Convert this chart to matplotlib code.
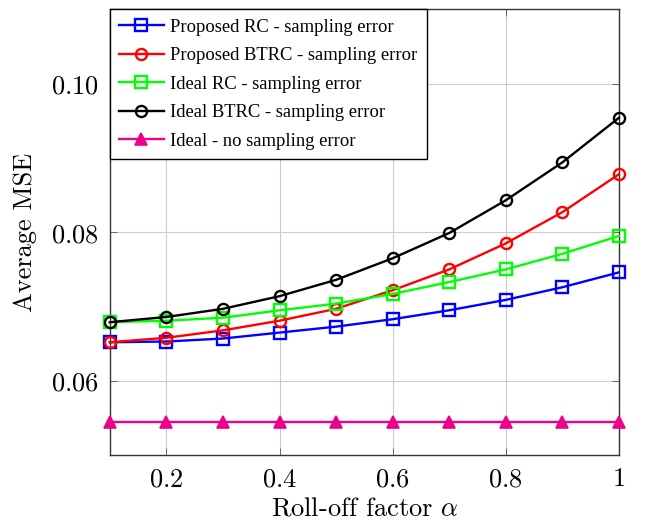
import matplotlib
matplotlib.use('Agg')
import matplotlib.pyplot as plt

plt.rcParams['mathtext.fontset'] = 'cm'

alpha = [0.1, 0.2, 0.3, 0.4, 0.5, 0.6, 0.7, 0.8, 0.9, 1.0]

proposed_rc = [0.0652, 0.0653, 0.0657, 0.0665, 0.0673, 0.0683, 0.0695, 0.0709, 0.0726, 0.0746]
proposed_btrc = [0.0652, 0.0658, 0.0668, 0.0681, 0.0697, 0.0722, 0.0750, 0.0785, 0.0827, 0.0878]
ideal_rc = [0.0679, 0.0681, 0.0685, 0.0695, 0.0704, 0.0717, 0.0733, 0.0750, 0.0771, 0.0795]
ideal_btrc = [0.0679, 0.0686, 0.0697, 0.0714, 0.0736, 0.0765, 0.0799, 0.0843, 0.0894, 0.0954]
ideal_no_err = [0.0544] * 10

labels = ['Proposed RC - sampling error', 'Proposed BTRC - sampling error',
          'Ideal RC - sampling error', 'Ideal BTRC - sampling error',
          'Ideal - no sampling error']

xticks = [0.2, 0.4, 0.6, 0.8, 1.0]
xtick_labels = ['0.2', '0.4', '0.6', '0.8', '1']
yticks = [0.06, 0.08, 0.10]
ytick_labels = ['0.06', '0.08', '0.10']

fig = plt.figure(figsize=(6.5, 5.22), dpi=100)
ax = fig.add_axes([0.169, 0.128, 0.783, 0.854])

kw = dict(lw=1.7, ms=8, mew=1.7, mfc='none', clip_on=False, zorder=3)
ax.plot(alpha, proposed_rc, color='#0000ff', marker='s', label=labels[0], **kw)
ax.plot(alpha, proposed_btrc, color='#ff0000', marker='o', label=labels[1], **kw)
ax.plot(alpha, ideal_rc, color='#00ff00', marker='s', label=labels[2], **kw)
ax.plot(alpha, ideal_btrc, color='#000000', marker='o', label=labels[3], **kw)
ax.plot(alpha, ideal_no_err, color='#ec008c', marker='^', lw=1.7, ms=8, mew=1.2,
        label=labels[4], clip_on=False, zorder=3)

ax.set_xlim(0.1, 1.0)
ax.set_ylim(0.05, 0.11)
ax.set_xticks(xticks)
ax.set_xticklabels(['$' + s + '$' for s in xtick_labels], fontsize=19)
ax.set_yticks(yticks)
ax.set_yticklabels(['$' + s + '$' for s in ytick_labels], fontsize=19)
ax.tick_params(direction='in', length=5, width=0.6, color='#555555', top=True, right=True, pad=8)
ax.grid(True, color='#cccccc', lw=0.8)
ax.set_axisbelow(True)
for s in ax.spines.values():
    s.set_linewidth(1.0)
    s.set_color('#333333')

ax.set_xlabel(r'Roll-off factor $\alpha$', fontsize=19, family='cmr10', labelpad=3)
ax.set_ylabel('Average MSE', fontsize=19, family='cmr10', labelpad=10)

leg = ax.legend(loc='upper left', prop={'family': 'Liberation Serif', 'size': 13.4},
                frameon=True, fancybox=False, framealpha=1, edgecolor='black',
                borderaxespad=0, handlelength=2.4, handletextpad=0.35,
                labelspacing=0.62, borderpad=0.5)
leg.get_frame().set_linewidth(1.0)

fig.savefig('out.png', dpi=100)
